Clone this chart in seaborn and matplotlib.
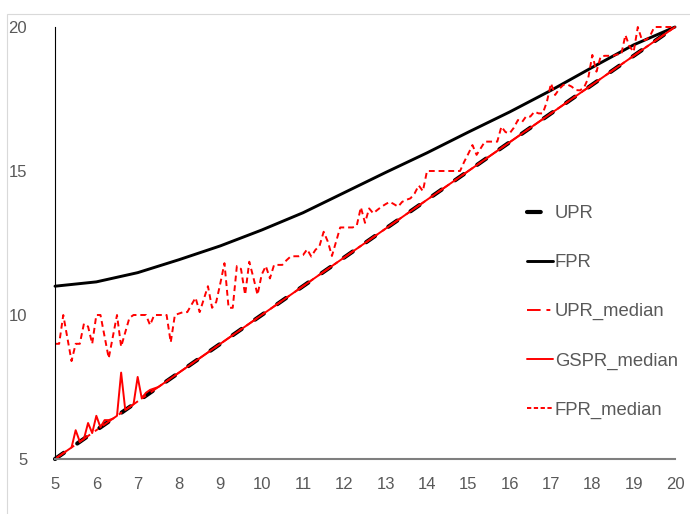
import numpy as np
import pandas as pd
import matplotlib
matplotlib.use("Agg")
import matplotlib.pyplot as plt
from matplotlib.patches import Rectangle
import seaborn as sns

# ---------------- data ----------------
int_x = [5, 6, 7, 8, 9, 10, 11, 12, 13, 14, 15, 16, 17, 18, 19, 20]
upr = [5, 6, 7, 8, 9, 10, 11, 12, 13, 14, 15, 16, 17, 18, 19, 20]
fpr = [11.0, 11.15, 11.47, 11.92, 12.4, 12.95, 13.55, 14.25, 14.95, 15.63,
       16.35, 17.05, 17.8, 18.6, 19.38, 20.0]
upr_median = [5, 6, 7, 8, 9, 10, 11, 12, 13, 14, 15, 16, 17, 18, 19, 20]

gspr_x = [5.0, 5.1, 5.2, 5.3, 5.4, 5.5, 5.6, 5.7, 5.8, 5.9,
          6.0, 6.1, 6.2, 6.3, 6.4, 6.5, 6.6, 6.7, 6.8, 6.9,
          7.0, 7.1, 7.2, 7.3, 7.4, 7.5, 7.6,
          8, 9, 10, 11, 12, 13, 14, 15, 16, 17, 18, 19, 20]
gspr_median = [5.0, 5.1, 5.2, 5.3, 5.4, 6.0, 5.6, 5.7, 6.25, 5.9,
               6.5, 6.1, 6.35, 6.35, 6.4, 6.5, 8.0, 6.7, 6.8, 6.9,
               7.85, 7.1, 7.3, 7.4, 7.45, 7.5, 7.6,
               8, 9, 10, 11, 12, 13, 14, 15, 16, 17, 18, 19, 20]

fpr_median_x = [round(5 + 0.1 * i, 1) for i in range(151)]
fpr_median = (
    [9.0, 9.0, 10.0, 9.2, 8.4, 9.0, 9.0, 9.7, 9.6, 9.0] +
    [10.0, 10.0, 9.25, 8.5, 9.25, 10.0, 8.9, 9.4, 9.9, 10.0] +
    [10.0, 10.0, 10.0, 9.65, 10.0, 10.0, 10.0, 10.0, 9.05, 10.0] +
    [10.05, 10.1, 10.1, 10.35, 10.6, 10.1, 10.55, 11.0, 10.25, 10.45] +
    [11.1, 11.8, 10.25, 10.25, 11.7, 11.6, 10.7, 11.85, 11.3, 10.7] +
    [11.4, 11.7, 11.27, 11.74, 11.74, 11.74, 11.9, 12.03, 12.04, 12.04] +
    [12.08, 12.28, 12.03, 12.26, 12.4, 12.89, 12.55, 12.05, 12.55, 13.04] +
    [13.04, 13.04, 13.04, 13.1, 13.74, 13.2, 13.7, 13.53, 13.65, 13.76] +
    [13.85, 13.93, 13.85, 13.76, 13.93, 14.0, 14.05, 14.22, 14.5, 14.3] +
    [15.0, 15.0, 15.0, 15.0, 15.0, 15.0, 15.0, 15.0, 15.0, 15.32] +
    [15.6, 15.9, 15.56, 15.79, 16.02, 16.02, 16.02, 16.02, 16.54, 16.35] +
    [16.31, 16.5, 16.77, 16.7, 16.9, 16.89, 17.06, 17.0, 17.0, 17.4] +
    [18.04, 17.64, 17.85, 17.99, 18.0, 17.93, 17.81, 17.8, 17.9, 18.22] +
    [19.03, 18.45, 18.97, 19.0, 19.0, 19.0, 19.05, 19.05, 19.72, 19.32] +
    [19.14, 20.0, 19.55, 19.55, 19.7, 20.0, 20.0, 20.0, 20.0, 20.0] +
    [20.0]
)

x_ticks = [5, 6, 7, 8, 9, 10, 11, 12, 13, 14, 15, 16, 17, 18, 19, 20]
y_ticks = [5, 10, 15, 20]

# ---------------- style ----------------
sns.set_style("white")
plt.rcParams['font.family'] = ['Liberation Sans', 'DejaVu Sans']

fig = plt.figure(figsize=(6.9, 5.14), dpi=100)
ax = fig.add_axes([55 / 690, 1 - 459 / 514, 620 / 690, 432 / 514])

# outer chart frame (light grey)
fig.patches.append(Rectangle((7 / 690, -0.1), 1.2, 0.1 + (1 - 14 / 514),
                             transform=fig.transFigure, fill=False,
                             edgecolor='#d9d9d9', linewidth=0.8, zorder=0))

lw_upr = 3.0
sns.lineplot(x=int_x, y=upr, ax=ax, color='black', linewidth=lw_upr,
             linestyle=(0, (2.6, 3.9)), dash_capstyle='round',
             label='UPR', clip_on=False)
sns.lineplot(x=int_x, y=fpr, ax=ax, color='black', linewidth=2.1,
             label='FPR', clip_on=False)
sns.lineplot(x=int_x, y=upr_median, ax=ax, color='red', linewidth=1.4,
             linestyle=(0, (7, 3, 2, 3)), label='UPR_median', clip_on=False)
sns.lineplot(x=gspr_x, y=gspr_median, ax=ax, color='red', linewidth=1.4,
             label='GSPR_median', clip_on=False)
sns.lineplot(x=fpr_median_x, y=fpr_median, ax=ax, color='red', linewidth=1.4,
             linestyle=(0, (3, 2)), label='FPR_median', clip_on=False)

ax.set_xlim(5, 20)
ax.set_ylim(5, 20)
ax.set_xticks(x_ticks)
ax.set_yticks(y_ticks)
ax.tick_params(axis='both', length=0, labelsize=12, labelcolor='#595959')
ax.tick_params(axis='x', pad=13)
ax.tick_params(axis='y', pad=20)
ax.set_xlabel('')
ax.set_ylabel('')

for s in ['top', 'right']:
    ax.spines[s].set_visible(False)
ax.spines['left'].set_color('black')
ax.spines['left'].set_linewidth(0.8)
ax.spines['bottom'].set_color('#7f7f7f')
ax.spines['bottom'].set_linewidth(1.5)

leg = ax.legend(loc='upper left', bbox_to_anchor=(527 / 690, 1 - 205 / 514),
                bbox_transform=fig.transFigure, frameon=False,
                fontsize=13.3, labelspacing=1.74, handlelength=1.4,
                handletextpad=0.1, borderpad=0, borderaxespad=0)
for t in leg.get_texts():
    t.set_color('#595959')
# UPR key shows a single thick dash
leg.legend_handles[0].set_linestyle((0, (3.3, 10)))
leg.legend_handles[4].set_linestyle((0, (2.2, 1.3)))

fig.savefig('out.png', dpi=100)
